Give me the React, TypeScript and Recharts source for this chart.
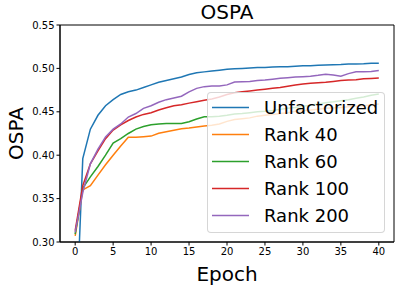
import { LineChart, Line, XAxis, YAxis, ReferenceArea, Legend } from "recharts";

const epochs = [
  0, 1, 2, 3, 4, 5, 6, 7, 8, 9, 10, 11, 12, 13, 14, 15, 16, 17, 18, 19, 20,
  21, 22, 23, 24, 25, 26, 27, 28, 29, 30, 31, 32, 33, 34, 35, 36, 37, 38, 39, 40,
];

const unfactorized = [
  0.18, 0.396, 0.43, 0.446, 0.457, 0.464, 0.47, 0.473, 0.475, 0.478, 0.481,
  0.484, 0.486, 0.488, 0.49, 0.493, 0.495, 0.496, 0.497, 0.498, 0.499,
  0.4995, 0.5, 0.5005, 0.501, 0.501, 0.5015, 0.5018, 0.502, 0.5025, 0.503,
  0.503, 0.5035, 0.504, 0.5042, 0.5045, 0.505, 0.5052, 0.5055, 0.506, 0.506,
];

const rank40 = [
  0.307, 0.36, 0.365, 0.377, 0.389, 0.4, 0.4106, 0.4206, 0.4206, 0.4213, 0.422,
  0.4252, 0.427, 0.4287, 0.4305, 0.4313, 0.4325, 0.4336, 0.4344, 0.436, 0.439,
  0.441, 0.442, 0.443, 0.445, 0.446, 0.447, 0.448, 0.449, 0.4505, 0.4513,
  0.452, 0.453, 0.454, 0.4545, 0.455, 0.4558, 0.4565, 0.457, 0.458, 0.459,
];

const rank60 = [
  0.309, 0.362, 0.375, 0.387, 0.4, 0.414, 0.419, 0.425, 0.43, 0.433, 0.435,
  0.436, 0.4365, 0.4365, 0.4365, 0.4386, 0.4417, 0.4444, 0.4444, 0.445, 0.446,
  0.4475, 0.448, 0.449, 0.45, 0.4505, 0.4515, 0.4528, 0.454, 0.455, 0.4563,
  0.4575, 0.459, 0.4605, 0.4615, 0.4628, 0.464, 0.4655, 0.467, 0.469, 0.4705,
];

const rank100 = [
  0.313, 0.365, 0.39, 0.405, 0.419, 0.429, 0.435, 0.44, 0.444, 0.447, 0.449,
  0.452, 0.4547, 0.457, 0.458, 0.46, 0.4616, 0.4632, 0.4647, 0.467, 0.47,
  0.472, 0.473, 0.474, 0.475, 0.476, 0.477, 0.478, 0.4795, 0.481, 0.482,
  0.483, 0.4835, 0.484, 0.485, 0.486, 0.4865, 0.487, 0.488, 0.4885, 0.489,
];

const rank200 = [
  0.311, 0.357, 0.39, 0.407, 0.421, 0.43, 0.436, 0.444, 0.448, 0.454, 0.457,
  0.461, 0.464, 0.466, 0.468, 0.473, 0.477, 0.479, 0.4797, 0.4797, 0.481,
  0.4843, 0.4847, 0.485, 0.486, 0.4865, 0.4875, 0.4886, 0.4893, 0.49, 0.4905,
  0.491, 0.492, 0.4932, 0.4925, 0.491, 0.494, 0.4962, 0.496, 0.4965, 0.4975,
];

const xTicks = [0, 5, 10, 15, 20, 25, 30, 35, 40];
const yTicks = [0.3, 0.35, 0.4, 0.45, 0.5, 0.55];

const series = [
  { key: "unf", name: "Unfactorized", color: "#1f77b4", values: unfactorized },
  { key: "r40", name: "Rank 40", color: "#ff7f0e", values: rank40 },
  { key: "r60", name: "Rank 60", color: "#2ca02c", values: rank60 },
  { key: "r100", name: "Rank 100", color: "#d62728", values: rank100 },
  { key: "r200", name: "Rank 200", color: "#9467bd", values: rank200 },
];

const data = epochs.map((epoch, i) => {
  const row: Record<string, number> = { epoch };
  series.forEach((s) => {
    row[s.key] = s.values[i];
  });
  return row;
});

const FONT = "DejaVu Sans, sans-serif";

// legend keeps the plotting order (recharts sorts the payload by name)
function LegendBox() {
  return (
    <div
      style={{
        boxSizing: "border-box",
        width: 178,
        height: 141,
        border: "1px solid rgba(204,204,204,0.8)",
        borderRadius: 4,
        background: "rgba(255,255,255,0.8)",
        paddingTop: 1,
        fontFamily: FONT,
        fontSize: 18,
        color: "#000",
      }}
    >
      {series.map((s) => (
        <div key={s.key} style={{ display: "flex", alignItems: "center", height: 27 }}>
          <svg width={56} height={27} style={{ flex: "none" }}>
            <line x1={4} x2={41} y1={13.5} y2={13.5} stroke={s.color} strokeWidth={1.5} />
          </svg>
          <span style={{ lineHeight: "27px" }}>{s.name}</span>
        </div>
      ))}
    </div>
  );
}

export default function App() {
  return (
    <div style={{ position: "relative", width: 401, height: 287, background: "#fff" }}>
      <style>{"body{margin:0}"}</style>
      <div
        style={{
          position: "absolute",
          left: 60,
          width: 334,
          top: 0,
          textAlign: "center",
          fontFamily: FONT,
          fontSize: 20,
          lineHeight: "24px",
        }}
      >
        OSPA
      </div>
      <LineChart
        width={401}
        height={287}
        data={data}
        margin={{ top: 25, right: 7, bottom: 0, left: 0 }}
        style={{ fontFamily: FONT }}
      >
        <XAxis
          dataKey="epoch"
          type="number"
          domain={[-2, 42]}
          ticks={xTicks}
          height={45}
          tickSize={3.5}
          tickMargin={2}
          stroke="#000"
          tick={{ fill: "#000", fontSize: 10 }}
          label={{ value: "Epoch", position: "insideBottom", offset: 6, fontSize: 20, fill: "#000" }}
        />
        <YAxis
          type="number"
          domain={[0.3, 0.55]}
          ticks={yTicks}
          allowDataOverflow
          width={60}
          tickSize={3.5}
          tickMargin={2}
          stroke="#000"
          tick={{ fill: "#000", fontSize: 10 }}
          tickFormatter={(v: number) => v.toFixed(2)}
          label={{
            value: "OSPA",
            angle: -90,
            position: "insideLeft",
            offset: 16,
            fontSize: 20,
            fill: "#000",
            style: { textAnchor: "middle" },
          }}
        />
        {series.map((s) => (
          <Line
            key={s.key}
            type="linear"
            dataKey={s.key}
            name={s.name}
            stroke={s.color}
            strokeWidth={1.5}
            dot={false}
            isAnimationActive={false}
          />
        ))}
        <ReferenceArea
          x1={-2}
          x2={42}
          y1={0.3}
          y2={0.55}
          fill="none"
          stroke="#000"
          strokeWidth={1}
          fillOpacity={0}
        />
        <Legend
          layout="vertical"
          align="center"
          verticalAlign="middle"
          content={<LegendBox />}
          wrapperStyle={{ left: 207, top: 92, width: 178, height: 141 }}
        />
      </LineChart>
    </div>
  );
}
